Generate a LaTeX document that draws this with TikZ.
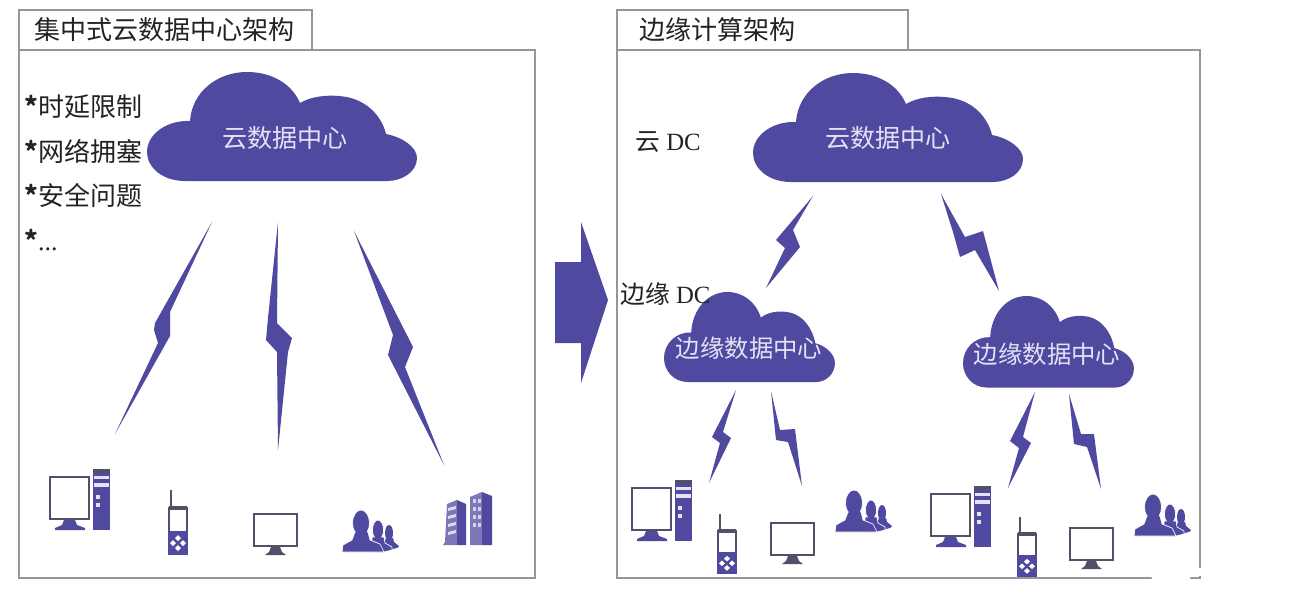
\documentclass[tikz,border=0pt]{standalone}
\usepackage{fontspec}
\setmainfont{Liberation Serif}
\newfontfamily\cjk{Noto Sans CJK SC}
\definecolor{cloudblue}{RGB}{79,73,160}
\definecolor{framegray}{RGB}{150,150,150}
\definecolor{outlinegray}{RGB}{82,80,105}
\definecolor{cloudtext}{RGB}{226,226,245}
\definecolor{labelink}{RGB}{35,35,35}
\tikzset{
  x=0.75pt, y=-0.75pt,
  framebox/.style={draw=framegray, line width=1.2pt},
  bolt/.style={fill=cloudblue, draw=none},
  titletext/.style={anchor=west, inner sep=0pt, text=labelink, font=\fontsize{19.5}{22}\selectfont\cjk},
  listtext/.style={anchor=west, inner sep=0pt, text=labelink, font=\fontsize{19.5}{22}\selectfont\cjk},
  dctext/.style={anchor=west, inner sep=0pt, text=labelink, font=\fontsize{18.6}{22}\selectfont\cjk},
  cloudlabel/.style={inner sep=0pt, text=cloudtext, font=\fontsize{18.8}{22}\selectfont\cjk},
  edgelabel/.style={inner sep=0pt, text=cloudtext, font=\fontsize{18.3}{22}\selectfont\cjk},
  figure/.style={fill=cloudblue, draw=white, line width=0.5pt},
  cloudshape/.pic={
    \fill[cloudblue] (38,109) .. controls (15,109) and (0,95) .. (0,80)
      .. controls (0,62) and (20,48) .. (43,49)
      .. controls (45,20) and (70,0) .. (100,0)
      .. controls (125,0) and (145,12) .. (153,31)
      .. controls (165,24) and (180,23) .. (192,24)
      .. controls (220,26) and (235,45) .. (239,62)
      .. controls (255,65) and (270,75) .. (270,86)
      .. controls (270,100) and (255,109) .. (240,109) -- cycle;
  },
  desktop/.pic={
    \draw[outlinegray, line width=2.1pt, fill=white] (1,8) rectangle (40,50);
    \fill[cloudblue] (15,51) -- (26,51) -- (28,56) -- (36,59) -- (36,61) -- (6,61) -- (6,59) -- (13,56) -- cycle;
    \fill[cloudblue] (44,0) rectangle (61,61);
    \fill[outlinegray] (44,0) rectangle (61,4);
    \fill[white!85!cloudblue] (45,7) rectangle (60,10);
    \fill[white!85!cloudblue] (45,14) rectangle (60,18);
    \fill[white!85!cloudblue] (47,26) rectangle (51,30);
    \fill[white!85!cloudblue] (47,34) rectangle (51,38);
  },
  handset/.pic={
    \draw[outlinegray, line width=1pt] (3,0) -- (3,18);
    \draw[outlinegray, line width=1.8pt, fill=white] (1,18) rectangle (19,42);
    \fill[outlinegray] (1,16) rectangle (19,20);
    \fill[cloudblue] (0,41) rectangle (20,65);
    \fill[white] (10,45) -- (13,48) -- (10,51) -- (7,48) -- cycle;
    \fill[white] (10,55) -- (13,58) -- (10,61) -- (7,58) -- cycle;
    \fill[white] (5,50) -- (8,53) -- (5,56) -- (2,53) -- cycle;
    \fill[white] (15,50) -- (18,53) -- (15,56) -- (12,53) -- cycle;
  },
  screen/.pic={
    \draw[outlinegray, line width=1.9pt, fill=white] (1,1) rectangle (44,33);
    \fill[outlinegray] (18,34) -- (27,34) -- (29,39) -- (33,42) -- (12,42) -- (16,39) -- cycle;
  },
  people/.pic={
    % rear figure
    \fill[cloudblue] (47,23) ellipse (4 and 8);
    \fill[cloudblue] (41,36) -- (44,28) -- (51,28) -- (52,32) -- (57,36) -- (55,38) -- (46,40) -- cycle;
    % middle figure
    \path[figure] (36,20) ellipse (5.5 and 10);
    \path[figure] (30,42) -- (30,27) -- (42,27) -- (43,33) -- (50,37) -- (50,40) -- (42,42) -- cycle;
    \fill[cloudblue] (33,24) rectangle (39,30);
    % front figure
    \path[figure] (19,13) ellipse (8.5 and 13);
    \path[figure] (0,42) -- (1,35) -- (10,30) -- (13,22) -- (26,22) -- (28,30) -- (38,34) -- (42,42) -- cycle;
    \fill[cloudblue] (14,20) rectangle (25,25);
  },
  offices/.pic={
    \fill[cloudblue!75] (4,12) -- (14,8) -- (14,53) -- (0,53) -- (2,50) -- cycle;
    \fill[cloudblue] (14,8) -- (23,12) -- (23,53) -- (14,53) -- cycle;
    \fill[cloudblue!75] (27,5) -- (39,0) -- (39,53) -- (27,53) -- cycle;
    \fill[cloudblue] (39,0) -- (49,4) -- (49,53) -- (39,53) -- cycle;
    \foreach \r in {16,24,32,40} {\fill[white!80!cloudblue] (5,\r) -- (13,\r-2) -- (13,\r+1) -- (5,\r+3) -- cycle;}
    \foreach \r in {7,15,23,31} {
      \fill[white!75!cloudblue] (30,\r) rectangle (33,\r+4);
      \fill[white!75!cloudblue] (35,\r) rectangle (38,\r+4);
    }
  },
}
\begin{document}
\begin{tikzpicture}
\useasboundingbox[fill=white] (0,0) rectangle (1290,594);

% Left panel: centralised architecture
\draw[framebox] (19,50) rectangle (535,578);
\draw[framebox] (19,50) -- (19,10) -- (312,10) -- (312,50);
\node[titletext] (lefttitle) at (34,30) {集中式云数据中心架构};
\node[listtext] (limitA) at (24,107) {\textbf{*}\cjk 时延限制};
\node[listtext] (limitB) at (24,151) {\textbf{*}\cjk 网络拥塞};
\node[listtext] (limitC) at (24,195) {\textbf{*}\cjk 安全问题};
\node[listtext] (limitD) at (24,240) {\textbf{*}\rmfamily...};
\path (147,72) pic {cloudshape};
\node[cloudlabel] (leftcloud) at (285,138) {云数据中心};
\fill[bolt] (212,222) -- (170,312) -- (170,336) -- (115,434) -- (158,343) -- (154,330) -- (155,323) -- cycle;
\fill[bolt] (278,222) -- (277,323) -- (292,338) -- (288,352) -- (278,450) -- (277,352) -- (266,340) -- (268,318) -- cycle;
\fill[bolt] (354,231) -- (413,347) -- (405,367) -- (444,465) -- (388,355) -- (393,335) -- cycle;
\path (49,469) pic {desktop};
\path (168,490) pic {handset};
\path (253,513) pic {screen};
\path (342,510) pic {people};
\path (443,492) pic {offices};

% Transition arrow
\fill[cloudblue] (555,262) -- (581,262) -- (581,222) -- (608,300) -- (581,383) -- (581,343) -- (555,343) -- cycle;

% Right panel: edge computing architecture
\draw[framebox] (617,50) rectangle (1200,578);
\draw[framebox] (617,50) -- (617,10) -- (908,10) -- (908,50);
\fill[white] (1171,574) ellipse (20 and 15);
\fill[white] (1196,568) rectangle (1204,576);
\node[titletext] (righttitle) at (639,30) {边缘计算架构};
\node[dctext] (clouddc) at (635,142) {\cjk 云\rmfamily\ DC};
\path (753,73) pic {cloudshape};
\node[cloudlabel] (rightcloud) at (888,138) {云数据中心};
\path (664,292) pic[xscale=0.633, yscale=0.826] {cloudshape};
\node[dctext] (edgedc) at (620,294) {\cjk 边缘\rmfamily\ DC};
\node[edgelabel] (edgecloudA) at (749,348) {边缘数据中心};
\path (963,296) pic[xscale=0.633, yscale=0.84] {cloudshape};
\node[edgelabel] (edgecloudB) at (1047,354) {边缘数据中心};
\fill[bolt] (813,196) -- (793,230) -- (800,247) -- (766,288) -- (785,248) -- (776,240) -- cycle;
\fill[bolt] (941,194) -- (965,237) -- (983,231) -- (999,291) -- (975,250) -- (960,257) -- (953,232) -- cycle;
\fill[bolt] (736,390) -- (723,432) -- (731,438) -- (709,483) -- (720,443) -- (712,437) -- cycle;
\fill[bolt] (771,391) -- (780,430) -- (795,429) -- (802,486) -- (788,442) -- (776,440) -- cycle;
\fill[bolt] (1035,392) -- (1023,437) -- (1031,443) -- (1008,488) -- (1019,448) -- (1010,441) -- cycle;
\fill[bolt] (1069,394) -- (1081,434) -- (1094,434) -- (1101,489) -- (1087,447) -- (1074,444) -- cycle;
\path (631,480) pic {desktop};
\path (717,514) pic[yscale=0.93] {handset};
\path (770,522) pic {screen};
\path (835,490) pic {people};
\path (930,486) pic {desktop};
\path (1017,517) pic[yscale=0.93] {handset};
\path (1069,527) pic {screen};
\path (1134,494) pic {people};
\end{tikzpicture}
\end{document}
